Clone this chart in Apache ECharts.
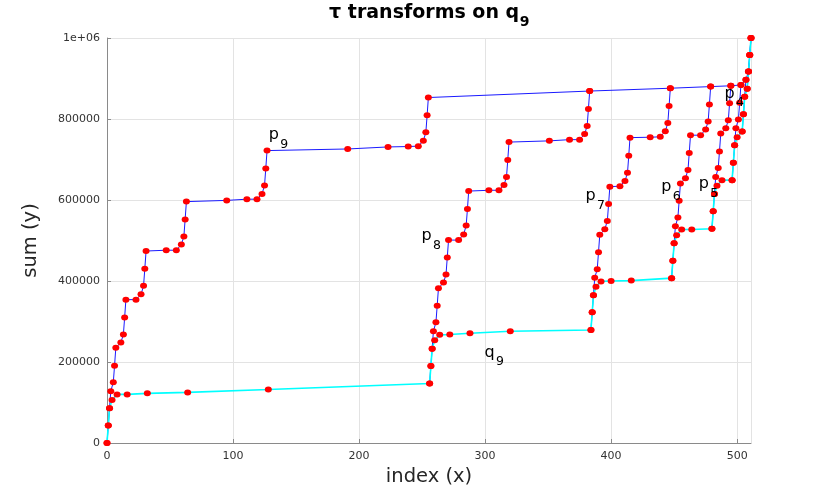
<!DOCTYPE html>
<html>
<head>
<meta charset="utf-8">
<script src="https://cdn.jsdelivr.net/npm/echarts@6/dist/echarts.min.js"></script>
<style>
html,body{margin:0;padding:0;background:#fff;}
#chart{width:830px;height:498px;}
</style>
</head>
<body>
<div id="chart"></div>
<script>
// ---- data ----
const xTicks = [0, 100, 200, 300, 400, 500];
const yTicks = [0, 200000, 400000, 600000, 800000, 1000000];

const q9X = [0,1,2,4,8,16,32,64,128,256,257,258,260,264,272,288,320,384,385,386,388,392,400,416,448,449,450,452,456,464,480,481,482,484,488,496,497,498,500,504,505,506,508,509,510,511];
const q9Y = [0,43000,86000,106000,120000,120000,122600,125000,132000,147000,190000,233000,254000,267000,268000,271000,276000,279000,323000,365000,386000,399000,400000,401000,407000,450000,493000,513000,527000,527000,529000,572000,615000,635000,649000,649000,692000,735000,755000,769000,812000,855000,875000,917000,958000,1000000];

const p9X = [0,1,2,3,5,6,7,11,13,14,15,23,27,29,30,31,47,55,59,61,62,63,95,111,119,123,125,126,127,191,223,239,247,251,253,254,255,383,447,479,495,503,507,509,510,511];
const p9Y = [0,43000,86000,128000,150000,191000,235000,248000,268000,310000,354000,354000,367000,388000,430000,474000,476000,476000,490000,510000,552000,596000,599000,602000,602000,615000,636000,678000,722000,726000,731000,732000,733000,746000,767000,809000,853000,869000,876000,880000,882000,884000,897000,917000,958000,1000000];

const p8X = [256,257,258,259,261,262,263,267,269,270,271,279,283,285,286,287,303,311,315,317,318,319,351,367,375,379,381,382,383];
const p8Y = [147000,190000,233000,276000,298000,339000,382000,396000,416000,458000,501000,501000,515000,537000,578000,622000,624000,624000,637000,657000,699000,743000,746000,749000,749000,763000,783000,825000,869000];

const p7X = [384,385,386,387,389,390,391,395,397,398,399,407,411,413,414,415,431,439,443,445,446,447];
const p7Y = [279000,323000,365000,408000,429000,471000,514000,528000,548000,590000,633000,634000,647000,667000,709000,754000,755000,756000,770000,790000,832000,876000];

const p6X = [448,449,450,451,453,454,455,459,461,462,463,471,475,477,478,479];
const p6Y = [407000,450000,493000,535000,557000,598000,641000,654000,674000,716000,760000,760000,774000,794000,836000,880000];

const p5X = [480,481,482,483,485,486,487,491,493,494,495];
const p5Y = [529000,572000,615000,657000,679000,720000,764000,777000,797000,839000,882000];

const p4X = [496,497,498,499,501,502,503];
const p4Y = [649000,692000,735000,777000,799000,840000,884000];

const p3X = [504,505,506,507];
const p3Y = [769000,812000,855000,897000];

const p2X = [508,509,510,511];
const p2Y = [875000,917000,958000,1000000];

// annotation labels: [main, sub, x, y]
const labelMain = ['p','p','p','p','p','p','q'];
const labelSub  = ['9','8','7','6','5','4','9'];
const labelX    = [129.1, 250.3, 380.5, 440.5, 470.4, 490.8, 300.3];
const labelY    = [761000, 511000, 610000, 632000, 639000, 863000, 223000];

const titleMain = 'τ transforms on q';
const titleSub = '9';
const xName = 'index (x)';
const yName = 'sum (y)';

// ---- build ----
const FONT = "'DejaVu Sans', Verdana, sans-serif";
function pairs(xs, ys){ return xs.map((x,i)=>[x, ys[i]]); }

const blueSets = [[p9X,p9Y],[p8X,p8Y],[p7X,p7Y],[p6X,p6Y],[p5X,p5Y],[p4X,p4Y],[p3X,p3Y],[p2X,p2Y]];
const series = [];
blueSets.forEach((s, i) => {
  series.push({
    type: 'line', data: pairs(s[0], s[1]), showSymbol: false, symbol: 'none',
    lineStyle: {color: '#1a1aff', width: 1}, z: 2, animation: false, silent: true
  });
});
series.push({
  type: 'line', data: pairs(q9X, q9Y), showSymbol: false, symbol: 'none', smooth: false,
  lineStyle: {color: '#00ffff', width: 1.6}, z: 3, animation: false, silent: true
});
blueSets.concat([[q9X,q9Y]]).forEach(s => {
  series.push({
    type: 'scatter', data: pairs(s[0], s[1]), symbol: 'circle', symbolSize: [7, 6],
    itemStyle: {color: '#ff0000', opacity: 1}, z: 4, animation: false, silent: true
  });
});

const chart = echarts.init(document.getElementById('chart'), null, {renderer: 'canvas'});
const axisColor = '#8a8a8a';
chart.setOption({
  animation: false,
  backgroundColor: '#ffffff',
  grid: {left: 107, right: 79, top: 38, bottom: 55, containLabel: false},
  xAxis: {
    type: 'value', min: 0, max: 511, interval: 100,
    name: xName, nameLocation: 'middle', nameGap: 23,
    nameTextStyle: {fontFamily: FONT, fontSize: 19.5, color: '#262626'},
    axisLine: {show: true, onZero: false, lineStyle: {color: axisColor, width: 1}},
    axisTick: {show: true, inside: true, length: 4, lineStyle: {color: axisColor}},
    axisLabel: {fontFamily: FONT, fontSize: 11, color: '#333', margin: 8,
      showMaxLabel: false,
      formatter: v => (xTicks.indexOf(v) >= 0 ? String(v) : '')},
    splitLine: {show: true, lineStyle: {color: '#e3e3e3', width: 1}}
  },
  yAxis: {
    type: 'value', min: 0, max: 1000000, interval: 200000,
    name: yName, nameLocation: 'middle', nameGap: 66, nameRotate: 90,
    nameTextStyle: {fontFamily: FONT, fontSize: 19.5, color: '#262626'},
    axisLine: {show: true, onZero: false, lineStyle: {color: axisColor, width: 1}},
    axisTick: {show: true, inside: true, length: 4, lineStyle: {color: axisColor}},
    axisLabel: {fontFamily: FONT, fontSize: 11, color: '#333', margin: 7,
      formatter: v => (v === 1000000 ? '1e+06' : (yTicks.indexOf(v) >= 0 ? String(v) : ''))},
    splitLine: {show: true, lineStyle: {color: '#e3e3e3', width: 1}}
  },
  series: series
});

// text annotations
function measure(text, font){
  const c = document.createElement('canvas').getContext('2d');
  c.font = font; return c.measureText(text).width;
}
const graphics = [];
labelMain.forEach((m, i) => {
  const p = chart.convertToPixel({gridIndex: 0}, [labelX[i], labelY[i]]);
  graphics.push({type: 'text', x: p[0] - 1, y: p[1], z: 100,
    style: {text: m, font: '16px ' + FONT, fill: '#000', textAlign: 'left', textVerticalAlign: 'middle'}});
  graphics.push({type: 'text', x: p[0] + 10.5, y: p[1] + 9.5, z: 100,
    style: {text: labelSub[i], font: '12.5px ' + FONT, fill: '#000', textAlign: 'left', textVerticalAlign: 'middle'}});
});
// title
const tFont = 'bold 19px ' + FONT, sFont = 'bold 14px ' + FONT;
const wMain = measure(titleMain, tFont), wSub = measure(titleSub, sFont);
const cx = 429, tx = cx - (wMain + wSub) / 2;
graphics.push({type: 'text', x: tx, y: 13, z: 100,
  style: {text: titleMain, font: tFont, fill: '#000', textAlign: 'left', textVerticalAlign: 'middle'}});
graphics.push({type: 'text', x: tx + wMain + 0.5, y: 22, z: 100,
  style: {text: titleSub, font: sFont, fill: '#000', textAlign: 'left', textVerticalAlign: 'middle'}});
chart.setOption({graphic: graphics});
</script>
</body>
</html>
